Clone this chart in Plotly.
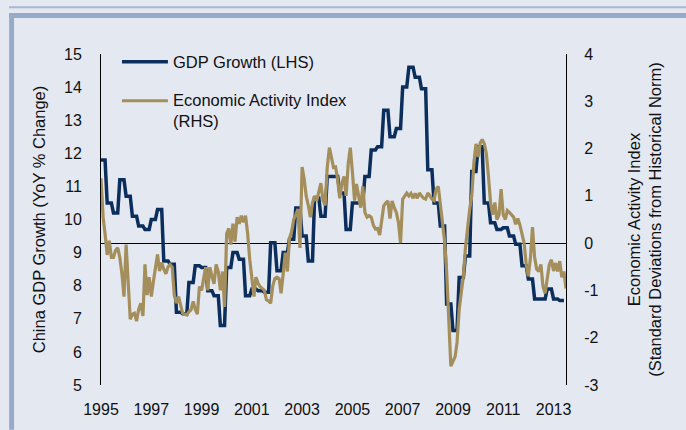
import numpy as np
import pandas as pd
import plotly.graph_objects as go

# ---- data -------------------------------------------------------------
# Real GDP growth, % YoY, quarterly 1995Q1 .. 2013Q2 (left axis)
gdp_quarterly = [
    11.8, 10.5, 10.2, 11.2,    # 1995
    10.7, 10.1, 9.8, 9.7,      # 1996
    10.0, 10.3, 8.75, 8.65,    # 1997
    7.2, 7.15, 8.1, 8.6,       # 1998
    8.55, 7.85, 7.7, 6.8,      # 1999
    8.55, 9.0, 8.8, 7.7,       # 2000
    7.9, 7.85, 7.8, 9.3,       # 2001
    8.45, 9.0, 9.4, 10.35,     # 2002
    9.5, 8.75, 10.65, 10.1,    # 2003
    11.3, 11.3, 10.8, 9.7,     # 2004
    10.5, 10.5, 11.3, 12.1,    # 2005
    12.2, 13.3, 12.5, 12.75,   # 2006
    14.0, 14.6, 14.3, 13.95,   # 2007
    11.5, 10.5, 9.8, 7.45,     # 2008
    6.65, 8.25, 8.9, 11.45,    # 2009
    12.2, 10.5, 9.9, 9.7,      # 2010
    9.75, 9.5, 9.25, 8.6,      # 2011
    8.2, 7.6, 7.6, 7.9,        # 2012
    7.6, 7.55,                 # 2013
]

# Economic activity index, std. deviations from norm, monthly Jan 1995 .. Jul 2013 (right axis)
activity_index = [
    1.37, 0.55, 0.2, -0.25, 0.05, -0.3, -0.3, -0.15, -0.1, -0.3, -0.65, -1.13,      # 1995
    -0.03, -0.86, -1.61, -1.5, -1.48, -1.65, -1.4, -1.27, -1.54, -0.45, -1.1, -0.72, # 1996
    -1.13, -0.8, -0.51, -0.24, -0.59, -0.41, -0.55, -0.65, -0.5, -0.45, -0.51, -1.1, # 1997
    -1.27, -1.13, -1.3, -1.48, -1.5, -1.52, -1.45, -1.41, -1.23, -1.4, -1.5, -0.92,  # 1998
    -1.0, -0.75, -0.51, -1.0, -0.51, -0.7, -0.86, -0.45, -0.6, -1.0, -0.6, -1.35,    # 1999
    0.2, 0.31, -0.03, 0.41, 0.03, 0.55, 0.41, 0.58, 0.44, 0.58, 0.2, -0.35,          # 2000
    -0.8, -1.13, -0.72, -0.85, -0.92, -0.96, -1.0, -1.2, -1.22, -1.27, -0.9, -0.75,  # 2001
    -0.72, -0.75, -1.06, -0.65, -0.2, -0.6, 0.1, 0.24, 0.5, 0.6, 0.72, -0.1,         # 2002
    1.61, 1.34, 1.0, 0.8, 0.55, 0.85, 1.0, 0.9, 1.1, 1.27, 0.9, 0.8,                 # 2003
    1.6, 2.02, 1.82, 1.6, 1.61, 1.34, 0.95, 1.27, 1.41, 1.0, 1.68, 2.02,             # 2004
    1.5, 0.9, 1.25, 1.0, 0.75, 1.2, 0.65, 0.55, 0.58, 0.55, 0.38, 0.3,               # 2005
    0.31, 0.17, 0.44, 0.79, 0.85, 0.89, 0.52, 0.89, 0.75, 0.65, 0.44, 0.0,           # 2006
    0.93, 1.0, 1.06, 1.0, 1.05, 0.95, 1.05, 0.95, 1.06, 1.0, 0.95, 0.93,             # 2007
    1.06, 1.0, 0.93, 0.9, 1.14, 1.2, 0.8, 0.44, 0.05, -0.6, -1.6, -2.6,              # 2008
    -2.5, -2.4, -2.1, -1.4, -1.05, -0.7, -0.1, 0.4, 0.72, 1.0, 1.7, 2.1,             # 2009
    1.82, 2.12, 2.19, 2.1, 1.89, 1.4, 0.85, 0.6, 0.86, 0.5, 0.6, 1.14,               # 2010
    0.6, 0.5, 0.69, 0.65, 0.6, 0.55, 0.4, 0.52, 0.38, 0.2, 0.0, -0.45,               # 2011
    -0.7, -0.3, 0.34, -0.3, -0.55, -0.6, -0.45, -0.92, -1.06, -0.75, -0.45, -0.35,   # 2012
    -0.59, -0.42, -0.6, -0.38, -0.72, -0.6, -0.96,                                   # 2013
]

left_ticks = list(range(5, 16))
right_ticks = list(range(-3, 5))
right_tick_text = [str(v) for v in right_ticks]   # plain hyphen for negatives

months = pd.date_range("1995-01-01", periods=len(activity_index), freq="MS")
# each quarterly reading is held flat across its three months
gdp_monthly = np.repeat(gdp_quarterly, 3)

# ---- styling ------------------------------------------------------------
BG = "#e4e8f1"
FRAME = "#98aac9"
NAVY = "#0b2e5c"
TAN = "#a48f5c"
FONT = "Arial, Liberation Sans, sans-serif"

W, H = 686, 430
ML, MR, MT, MB = 101, 119.5, 54, 36
PW, PH = W - ML - MR, H - MT - MB


def px(x):
    return (x - ML) / PW


def py(y):
    return (H - MB - y) / PH


fig = go.Figure()

fig.add_trace(go.Scatter(
    x=months[:len(gdp_monthly)], y=gdp_monthly, mode="lines",
    line=dict(color=NAVY, width=3.5), name="GDP Growth (LHS)",
    yaxis="y", showlegend=False,
))
fig.add_trace(go.Scatter(
    x=months, y=activity_index, mode="lines",
    line=dict(color=TAN, width=3.2), name="Economic Activity Index (RHS)",
    yaxis="y2", showlegend=False,
))

# frame of the exhibit panel
shapes = [
    dict(type="rect", xref="paper", yref="paper", x0=px(9), x1=px(700),
         y0=py(7), y1=py(5), fillcolor="#a9b7d0", line_width=0, layer="below"),
    dict(type="rect", xref="paper", yref="paper", x0=px(9), x1=px(700),
         y0=py(17), y1=py(12), fillcolor=FRAME, line_width=0, layer="below"),
    dict(type="rect", xref="paper", yref="paper", x0=px(9), x1=px(14),
         y0=py(440), y1=py(12), fillcolor=FRAME, line_width=0, layer="below"),
    # legend keys
    dict(type="line", xref="paper", yref="paper", x0=px(122), x1=px(168),
         y0=py(62), y1=py(62), line=dict(color=NAVY, width=3.5)),
    dict(type="line", xref="paper", yref="paper", x0=px(122), x1=px(168),
         y0=py(102), y1=py(102), line=dict(color=TAN, width=3.2)),
]

legend_font = dict(family=FONT, size=16.5, color="#111")
annotations = [
    dict(xref="paper", yref="paper", x=px(171), y=py(62), xanchor="left",
         yanchor="middle", text="GDP Growth (LHS)", showarrow=False,
         font=legend_font),
    dict(xref="paper", yref="paper", x=px(171), y=py(112.5), xanchor="left",
         yanchor="middle", align="left", text="Economic Activity Index<br>(RHS)",
         showarrow=False, font=legend_font),
]

axis_font = dict(family=FONT, size=16, color="#111")
title_font = dict(family=FONT, size=16.5, color="#111")

fig.update_layout(
    width=W, height=H,
    margin=dict(l=ML, r=MR, t=MT, b=MB, pad=0),
    paper_bgcolor=BG, plot_bgcolor=BG,
    font=dict(family=FONT, size=16, color="#111"),
    shapes=shapes, annotations=annotations,
    xaxis=dict(
        type="date", range=[months[0], months[-1]],
        tick0="1995-01-01", dtick="M24", tickformat="%Y",
        showgrid=False, zeroline=False, showline=False,
        ticks="", tickfont=axis_font, ticklabelstandoff=13,
    ),
    yaxis=dict(
        range=[5, 15], tickvals=left_ticks, showgrid=False, zeroline=False,
        showline=True, linecolor="#000", linewidth=1,
        ticks="", tickfont=axis_font, ticklabelstandoff=15,
        title=dict(text="China GDP Growth (YoY % Change)", font=title_font, standoff=14),
    ),
    yaxis2=dict(
        range=[-3, 4], tickvals=right_ticks, ticktext=right_tick_text,
        overlaying="y", side="right",
        showgrid=False, zeroline=True, zerolinecolor="#000", zerolinewidth=1,
        showline=True, linecolor="#000", linewidth=1,
        ticks="", tickfont=axis_font, ticklabelstandoff=14,
        title=dict(text="Economic Activity Index<br>(Standard Deviations from Historical Norm)",
                   font=title_font, standoff=30),
    ),
)

fig.write_html("out.html")
